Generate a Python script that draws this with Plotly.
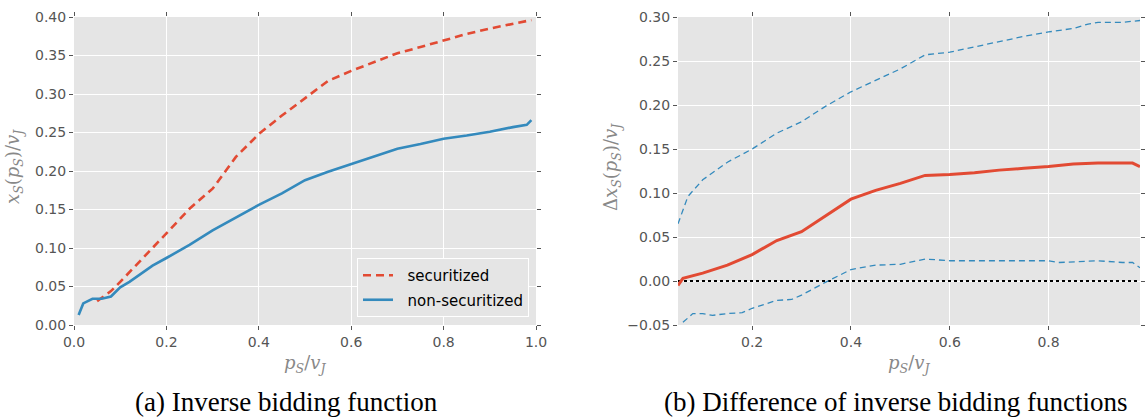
import plotly.graph_objects as go

# ---------------- data ----------------
# (a) inverse bidding function
sec_x = [0.05, 0.08, 0.10, 0.15, 0.20, 0.25, 0.30, 0.35, 0.40, 0.45, 0.50, 0.55,
         0.60, 0.65, 0.70, 0.75, 0.80, 0.85, 0.90, 0.95, 0.99]
sec_y = [0.031, 0.044, 0.056, 0.087, 0.119, 0.151, 0.177, 0.218, 0.248, 0.272, 0.294,
         0.317, 0.330, 0.341, 0.353, 0.361, 0.370, 0.378, 0.385, 0.391, 0.396]

non_x = [0.01, 0.02, 0.04, 0.06, 0.08, 0.10, 0.12, 0.15, 0.17, 0.20, 0.25, 0.30, 0.35,
         0.40, 0.45, 0.50, 0.55, 0.60, 0.65, 0.70, 0.75, 0.80, 0.85, 0.90, 0.95, 0.98, 0.99]
non_y = [0.013, 0.028, 0.034, 0.034, 0.037, 0.049, 0.056, 0.068, 0.077, 0.087, 0.104,
         0.123, 0.140, 0.156, 0.171, 0.188, 0.199, 0.209, 0.220, 0.229, 0.235, 0.242,
         0.246, 0.251, 0.257, 0.260, 0.266]

# (b) difference of inverse bidding functions
diff_x = [0.05, 0.06, 0.10, 0.15, 0.20, 0.25, 0.30, 0.33, 0.35, 0.40, 0.45, 0.50, 0.55,
          0.60, 0.65, 0.70, 0.75, 0.80, 0.85, 0.90, 0.95, 0.97, 0.985]
diff_y = [-0.005, 0.003, 0.009, 0.018, 0.030, 0.046, 0.056, 0.067, 0.075, 0.093, 0.103,
          0.111, 0.120, 0.121, 0.123, 0.126, 0.128, 0.130, 0.133, 0.134, 0.134, 0.134, 0.130]

up_x = [0.05, 0.07, 0.10, 0.15, 0.20, 0.25, 0.30, 0.35, 0.40, 0.45, 0.50, 0.55, 0.60,
        0.65, 0.70, 0.75, 0.80, 0.85, 0.88, 0.90, 0.95, 0.985]
up_y = [0.065, 0.096, 0.115, 0.135, 0.150, 0.168, 0.181, 0.199, 0.215, 0.228, 0.241,
        0.257, 0.260, 0.266, 0.272, 0.278, 0.283, 0.287, 0.292, 0.294, 0.294, 0.296]

lo_x = [0.06, 0.08, 0.10, 0.12, 0.15, 0.18, 0.20, 0.25, 0.28, 0.30, 0.35, 0.40, 0.45,
        0.50, 0.55, 0.60, 0.65, 0.70, 0.80, 0.82, 0.90, 0.95, 0.97, 0.985]
lo_y = [-0.047, -0.037, -0.037, -0.039, -0.037, -0.036, -0.031, -0.022, -0.021, -0.016,
        -0.001, 0.013, 0.018, 0.019, 0.025, 0.023, 0.023, 0.023, 0.023, 0.021, 0.023,
        0.021, 0.021, 0.015]

zero_x = [0.05, 0.985]
zero_y = [0.0, 0.0]

left_ticks_x = [0.0, 0.2, 0.4, 0.6, 0.8, 1.0]
right_ticks_x = [0.2, 0.4, 0.6, 0.8]

RED = "#E24A33"
BLUE = "#348ABD"
BG = "#E5E5E5"
TICK_FONT = dict(family="DejaVu Sans", size=14, color="#555555")
PAD = "\u00a0\u00a0"

fig = go.Figure()

fig.add_trace(go.Scatter(x=sec_x, y=sec_y, mode="lines", name=PAD + "securitized",
                         legendgroup="a",
                         line=dict(color=RED, width=2.6, dash="8px,5px"),
                         xaxis="x", yaxis="y"))
fig.add_trace(go.Scatter(x=non_x, y=non_y, mode="lines", name=PAD + "non-securitized",
                         legendgroup="b",
                         line=dict(color=BLUE, width=2.6),
                         xaxis="x", yaxis="y"))

fig.add_trace(go.Scatter(x=zero_x, y=zero_y, mode="lines", showlegend=False,
                         line=dict(color="black", width=2, dash="dot"),
                         xaxis="x2", yaxis="y2"))
fig.add_trace(go.Scatter(x=up_x, y=up_y, mode="lines", showlegend=False,
                         line=dict(color=BLUE, width=1.3, dash="6px,4px"),
                         xaxis="x2", yaxis="y2"))
fig.add_trace(go.Scatter(x=lo_x, y=lo_y, mode="lines", showlegend=False,
                         line=dict(color=BLUE, width=1.3, dash="6px,4px"),
                         xaxis="x2", yaxis="y2"))
fig.add_trace(go.Scatter(x=diff_x, y=diff_y, mode="lines", showlegend=False,
                         line=dict(color=RED, width=3),
                         xaxis="x2", yaxis="y2"))

W, H = 1146, 419
T, B = 17, 94
PH = H - T - B
axis_common = dict(showgrid=True, gridcolor="white", gridwidth=1, zeroline=False,
                   ticks="outside", ticklen=4, tickcolor="#555555", mirror="ticks",
                   showline=False, tickfont=TICK_FONT, automargin=False)

fig.update_layout(
    width=W, height=H,
    margin=dict(l=0, r=0, t=T, b=B, autoexpand=False),
    paper_bgcolor="white", plot_bgcolor=BG,
    xaxis=dict(domain=[74 / W, 536 / W], range=[0, 1.0], tickvals=left_ticks_x,
               tickformat=".1f", anchor="y", **axis_common),
    yaxis=dict(domain=[0, 1], range=[0, 0.40], dtick=0.05, tickformat=".2f",
               anchor="x", **axis_common),
    xaxis2=dict(domain=[678 / W, 1140 / W], range=[0.05, 0.985], tickvals=right_ticks_x,
                tickformat=".1f", anchor="y2", **axis_common),
    yaxis2=dict(domain=[0, 1], range=[-0.05, 0.30], dtick=0.05, tickformat=".2f",
                anchor="x2", **axis_common),
    legend=dict(x=529 / W, xanchor="right", xref="paper", y=(325 - 317) / PH,
                yanchor="bottom", bgcolor=BG, bordercolor="white", borderwidth=1,
                font=dict(family="DejaVu Sans", size=15, color="black"),
                tracegroupgap=2, traceorder="grouped"),
    showlegend=True,
)

SERIF = "DejaVu Serif"
TITLE_COLOR = "#888888"
ann = []
# y axis titles
ann.append(dict(x=14 / W, y=(325 - 167) / PH, xref="paper", yref="paper", textangle=-90,
                text="<i>x</i><sub><i>S</i></sub>(<i>p</i><sub><i>S</i></sub>)/<i>v</i><sub><i>J</i></sub>",
                showarrow=False, font=dict(family=SERIF, size=18, color=TITLE_COLOR),
                xanchor="center", yanchor="middle"))
ann.append(dict(x=612 / W, y=(325 - 167) / PH, xref="paper", yref="paper", textangle=-90,
                text="Δ<i>x</i><sub><i>S</i></sub>(<i>p</i><sub><i>S</i></sub>)/<i>v</i><sub><i>J</i></sub>",
                showarrow=False, font=dict(family=SERIF, size=18, color=TITLE_COLOR),
                xanchor="center", yanchor="middle"))
# x axis titles
for cx in [(74 + 536) / 2, (678 + 1140) / 2]:
    ann.append(dict(x=cx / W, y=(325 - 364) / PH, xref="paper", yref="paper",
                    text="<i>p</i><sub><i>S</i></sub>/<i>v</i><sub><i>J</i></sub>",
                    showarrow=False, font=dict(family=SERIF, size=18, color=TITLE_COLOR),
                    xanchor="center", yanchor="middle"))
# captions
ann.append(dict(x=286 / W, y=(325 - 402) / PH, xref="paper", yref="paper",
                text="(a) Inverse bidding function", showarrow=False,
                font=dict(family="Liberation Serif", size=27, color="black"),
                xanchor="center", yanchor="middle"))
ann.append(dict(x=896 / W, y=(325 - 402) / PH, xref="paper", yref="paper",
                text="(b) Difference of inverse bidding functions", showarrow=False,
                font=dict(family="Liberation Serif", size=27, color="black"),
                xanchor="center", yanchor="middle"))
fig.update_layout(annotations=ann)

fig.write_html("out.html", config={"displayModeBar": False},
               post_script="document.body.style.margin='0';document.body.style.overflow='hidden';")
